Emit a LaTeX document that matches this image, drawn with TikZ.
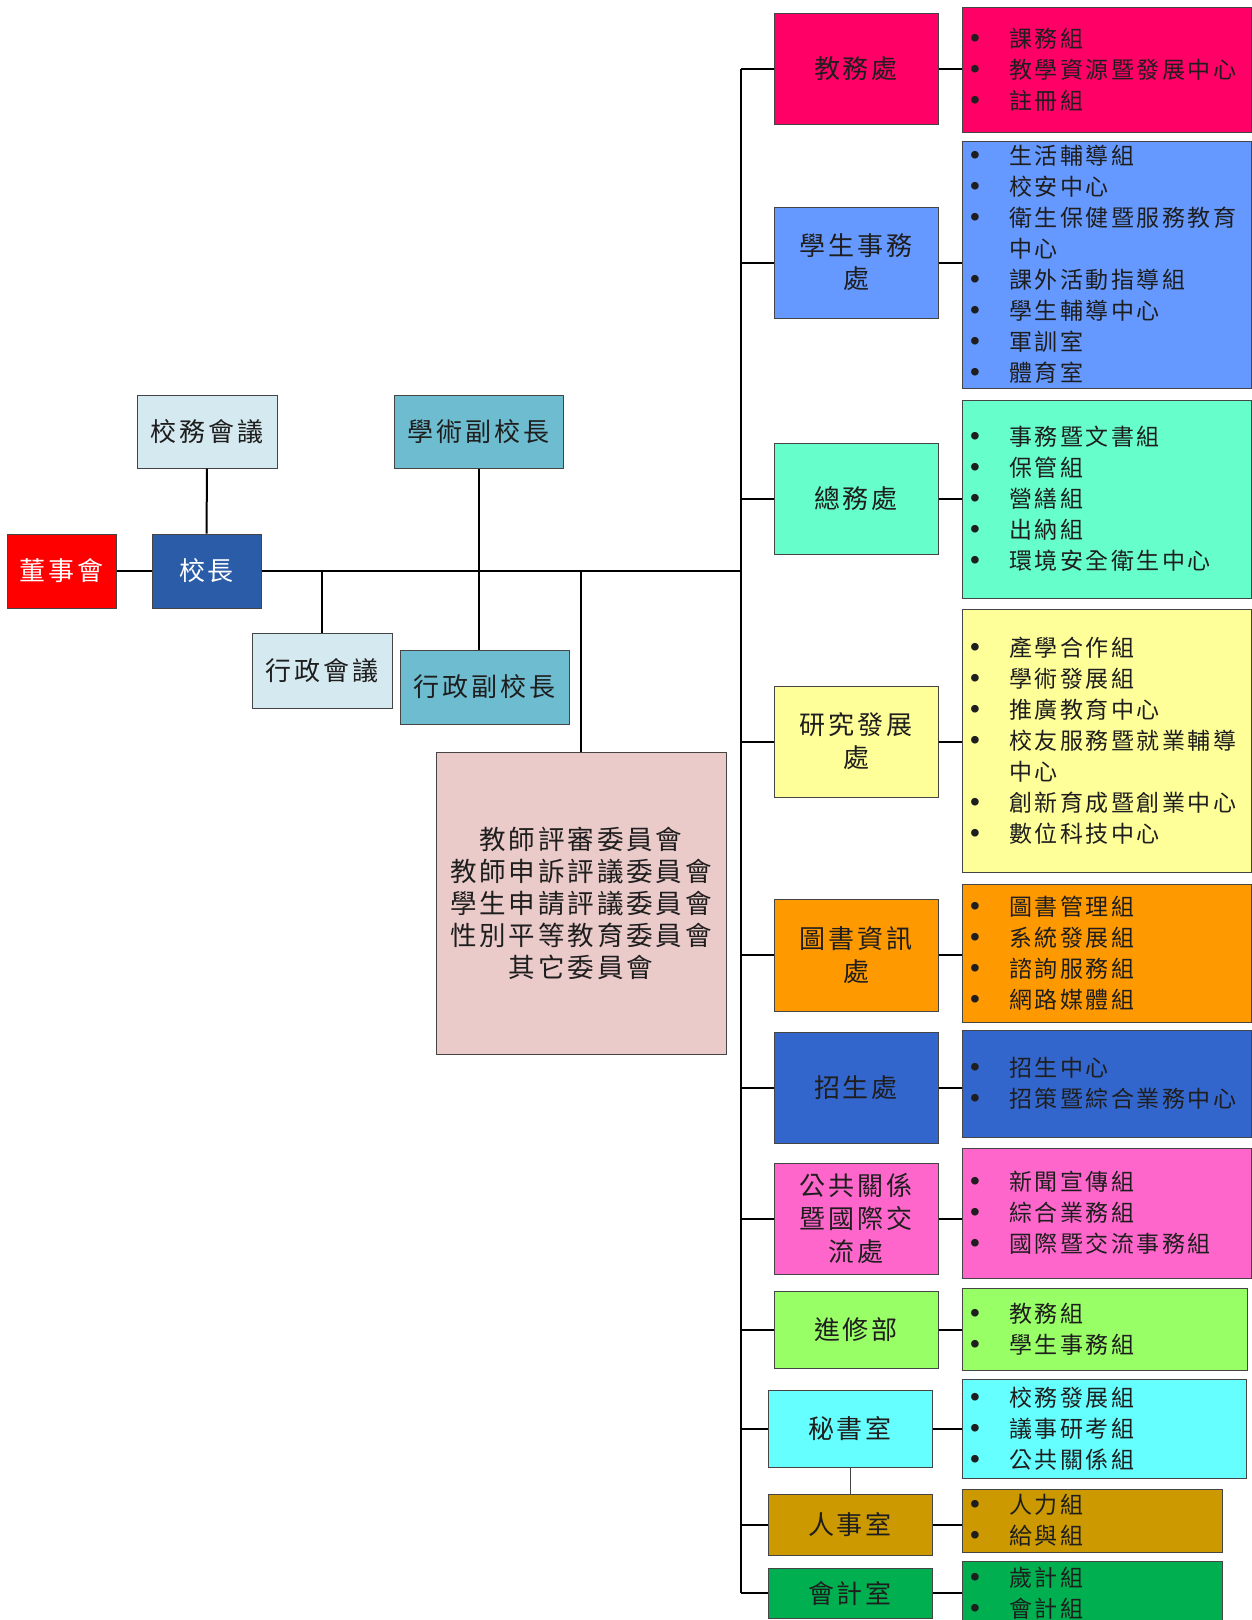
\documentclass[tikz,border=0pt]{standalone}
\usepackage{fontspec}
\setmainfont[LetterSpace=11]{Noto Sans CJK TC}
\newfontfamily\bulletfont{Liberation Sans}
\usepackage{tikz}
\usepackage{xcolor}
\usetikzlibrary{positioning,calc}
\definecolor{ink}{HTML}{1E1E1E}
\definecolor{edgegray}{HTML}{454545}
\definecolor{boardred}{HTML}{FF0000}
\definecolor{presblue}{HTML}{2A5CA8}
\definecolor{meetbg}{HTML}{D5E9F0}
\definecolor{vpbg}{HTML}{6EBCD0}
\definecolor{cttebg}{HTML}{EBCBCA}
\definecolor{acadbg}{HTML}{FF0066}
\definecolor{studbg}{HTML}{6699FF}
\definecolor{genbg}{HTML}{66FFCC}
\definecolor{resbg}{HTML}{FFFF99}
\definecolor{libbg}{HTML}{FF9900}
\definecolor{admbg}{HTML}{3366CC}
\definecolor{prbg}{HTML}{FF66CC}
\definecolor{extbg}{HTML}{99FF66}
\definecolor{secbg}{HTML}{66FFFF}
\definecolor{perbg}{HTML}{CC9900}
\definecolor{accbg}{HTML}{00B050}
\tikzset{
  unitbox/.style={draw=edgegray,line width=1pt,inner sep=0pt,
                  align=center,text=ink,font=\fontsize{26}{33}\selectfont},
  deptbox/.style={unitbox,minimum width=164pt,minimum height=111pt},
  listbox/.style={draw=edgegray,line width=1pt,inner xsep=8pt,inner ysep=0pt,
                  align=left,text=ink,font=\fontsize{23}{31}\selectfont},
  link/.style={line width=2pt,draw=black},
  thinlink/.style={line width=1pt,draw=edgegray}
}
\newcommand{\itm}[1]{\makebox[39pt][l]{\bulletfont\fontsize{28}{31}\selectfont\textbullet}#1}
\newcommand{\wrapline}[1]{\hspace*{39pt}#1}

\begin{document}
\begin{tikzpicture}[x=1pt,y=-1pt]
  \useasboundingbox (0,0) rectangle (1251,1620);
  % left part: board, president, meetings, vice presidents
  \node[unitbox,fill=boardred,text=white,minimum width=109pt,minimum height=74pt] (board) at (61.5,571) {董事會};
  \node[unitbox,fill=presblue,text=white,minimum width=109pt,minimum height=74pt] (pres) at (206.5,571) {校長};
  \node[unitbox,fill=meetbg,minimum width=140pt,minimum height=73pt] (council) at (207,431.5) {校務會議};
  \node[unitbox,fill=meetbg,minimum width=140pt,minimum height=75pt] (admeet) at (322,670.5) {行政會議};
  \node[unitbox,fill=vpbg,minimum width=169pt,minimum height=73pt] (acadvp) at (478.5,431.5) {學術副校長};
  \node[unitbox,fill=vpbg,minimum width=169pt,minimum height=74pt] (admvp) at (484.5,687) {行政副校長};
  \node[unitbox,fill=cttebg,minimum width=290pt,minimum height=302pt,
        font=\fontsize{26.5}{32}\selectfont] (ctte) at (581,903)
       {教師評審委員會\\教師申訴評議委員會\\學生申請評議委員會\\性別平等教育委員會\\其它委員會};

  % departments
  \node[deptbox,fill=acadbg] (acad) at (856,68.5) {教務處};
  \node[deptbox,fill=studbg] (stud) at (856,262.5) {學生事務\\處};
  \node[deptbox,fill=genbg] (gen) at (856,498.5) {總務處};
  \node[deptbox,fill=resbg] (res) at (856,741.5) {研究發展\\處};
  \node[deptbox,fill=libbg,minimum height=112pt] (lib) at (856,955) {圖書資訊\\處};
  \node[deptbox,fill=admbg] (adm) at (856,1087.5) {招生處};
  \node[deptbox,fill=prbg] (pr) at (856,1218.5) {公共關係\\暨國際交\\流處};
  \node[deptbox,fill=extbg,minimum height=77pt] (ext) at (856,1329.5) {進修部};
  \node[deptbox,fill=secbg,minimum height=77pt] (sec) at (850,1428.5) {秘書室};
  \node[deptbox,fill=perbg,minimum height=61pt] (per) at (850,1524.5) {人事室};
  \node[deptbox,fill=accbg,minimum height=50pt] (acc) at (850,1593) {會計室};

  % sections of each department
  \node[listbox,fill=acadbg,text width=273pt,minimum height=125pt] (acadsub) at (1106.5,69.5)
       {\itm{課務組}\\\itm{教學資源暨發展中心}\\\itm{註冊組}};
  \node[listbox,fill=studbg,text width=273pt,minimum height=247pt] (studsub) at (1106.5,264.5)
       {\itm{生活輔導組}\\\itm{校安中心}\\\itm{衛生保健暨服務教育}\\\wrapline{中心}\\\itm{課外活動指導組}\\\itm{學生輔導中心}\\\itm{軍訓室}\\\itm{體育室}};
  \node[listbox,fill=genbg,text width=273pt,minimum height=198pt] (gensub) at (1106.5,499)
       {\itm{事務暨文書組}\\\itm{保管組}\\\itm{營繕組}\\\itm{出納組}\\\itm{環境安全衛生中心}};
  \node[listbox,fill=resbg,text width=273pt,minimum height=263pt] (ressub) at (1106.5,740.5)
       {\itm{產學合作組}\\\itm{學術發展組}\\\itm{推廣教育中心}\\\itm{校友服務暨就業輔導}\\\wrapline{中心}\\\itm{創新育成暨創業中心}\\\itm{數位科技中心}};
  \node[listbox,fill=libbg,text width=273pt,minimum height=138pt] (libsub) at (1106.5,953)
       {\itm{圖書管理組}\\\itm{系統發展組}\\\itm{諮詢服務組}\\\itm{網路媒體組}};
  \node[listbox,fill=admbg,text width=273pt,minimum height=107pt] (admsub) at (1106.5,1083.5)
       {\itm{招生中心}\\\itm{招策暨綜合業務中心}};
  \node[listbox,fill=prbg,text width=273pt,minimum height=130pt] (prsub) at (1106.5,1213)
       {\itm{新聞宣傳組}\\\itm{綜合業務組}\\\itm{國際暨交流事務組}};
  \node[listbox,fill=extbg,text width=269pt,minimum height=82pt] (extsub) at (1104.5,1329)
       {\itm{教務組}\\\itm{學生事務組}};
  \node[listbox,fill=secbg,text width=268pt,minimum height=99pt] (secsub) at (1104,1428.5)
       {\itm{校務發展組}\\\itm{議事研考組}\\\itm{公共關係組}};
  \node[listbox,fill=perbg,text width=244pt,minimum height=63pt] (persub) at (1092,1520.5)
       {\itm{人力組}\\\itm{給與組}};
  \node[listbox,fill=accbg,text width=244pt,minimum height=64pt] (accsub) at (1092,1593)
       {\itm{歲計組}\\\itm{會計組}};

  % connectors
  \coordinate (trunktop) at (741,68.5);
  \coordinate (trunkbot) at (741,1593);
  \draw[link] (trunktop) -- (trunkbot);
  \draw[link] (board) -- (pres);
  \draw[link] (council) -- (pres);
  \draw[link] (pres.east) -- (pres.east -| trunktop);
  \draw[link] (admeet.north) -- (admeet.north |- pres.east);
  \draw[link] (acadvp.south) -- (acadvp.south |- admvp.north);
  \draw[link] (ctte.north) -- (ctte.north |- pres.east);
  \foreach \d in {acad,stud,gen,res,lib,adm,pr,ext,sec,per,acc} {
    \draw[link] (trunktop |- \d.west) -- (\d.west);
    \draw[link] (\d.east) -- (\d.east -| \d sub.west);
  }
  \draw[thinlink] (sec) -- (per);
\end{tikzpicture}
\end{document}
